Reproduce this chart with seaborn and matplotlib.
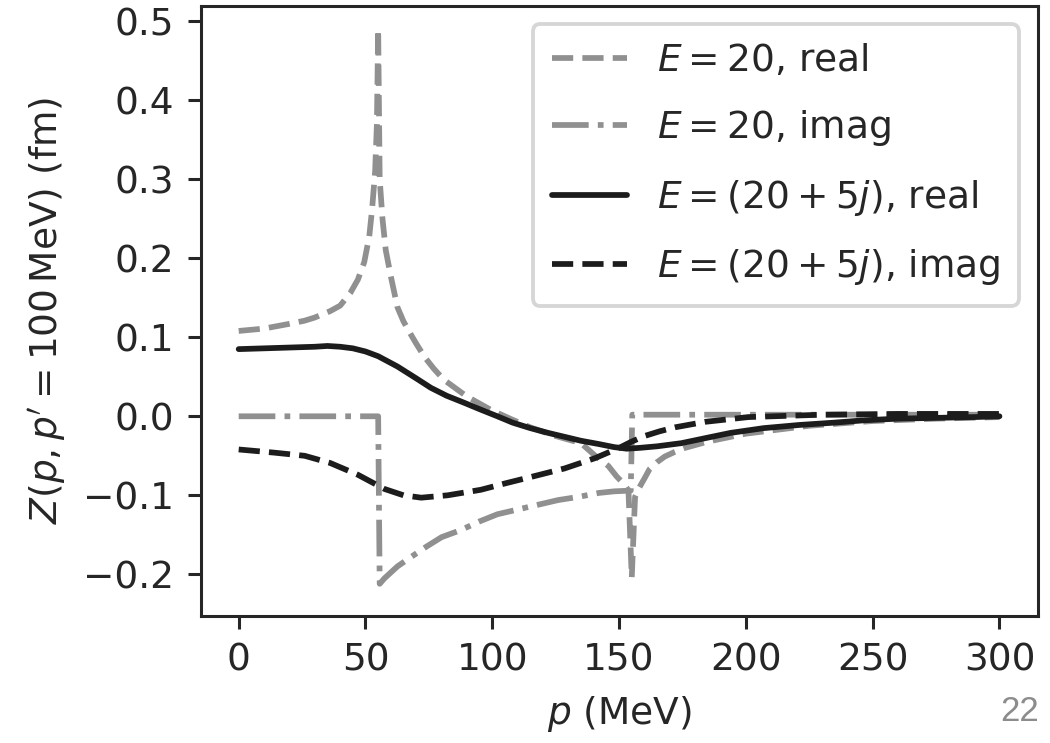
import numpy as np
import pandas as pd
import matplotlib
matplotlib.use("Agg")
import matplotlib.pyplot as plt
import seaborn as sns

# ---------------- data ----------------
# E = 20 (real energy) : real part
p_e20_real = [0, 10, 20, 26, 30, 36, 40, 44, 47, 49.5, 51.5, 52.6, 53.8, 54.5, 55,
              55.6, 56.7, 58, 60, 62.6, 65, 67.8, 70, 73.3, 77, 81, 90, 99.5, 107,
              115, 125, 135, 140.6, 145.8, 149, 152, 153.7, 155, 156.3, 158, 160.3,
              162, 165, 168, 172, 176, 185, 200, 225, 250, 275, 300]
z_e20_real = [0.108, 0.111, 0.117, 0.121, 0.125, 0.133, 0.140, 0.156, 0.173, 0.195,
              0.228, 0.262, 0.31, 0.37, 0.49,
              0.30, 0.25, 0.21, 0.177, 0.138, 0.120, 0.104, 0.092, 0.075, 0.060,
              0.046, 0.025, 0.008, -0.003,
              -0.014, -0.025, -0.034, -0.050, -0.063, -0.076, -0.086, -0.094, -0.204,
              -0.102, -0.090, -0.077,
              -0.067, -0.058, -0.051, -0.045, -0.040, -0.032, -0.022, -0.012, -0.006,
              -0.003, -0.001]

# E = 20 (real energy) : imaginary part
p_e20_imag = [0, 20, 40, 55, 55.6, 57.5, 62.6, 68, 74, 80, 87.6, 95, 102, 110, 118,
              126, 134, 142, 148, 154.6, 155.2, 170, 200, 250, 300]
z_e20_imag = [0.0, 0.0, 0.0, 0.0, -0.212, -0.205, -0.190, -0.178, -0.165, -0.153,
              -0.144, -0.133, -0.124, -0.118, -0.112,
              -0.106, -0.102, -0.097, -0.095, -0.094, 0.002, 0.002, 0.002, 0.002, 0.002]

# E = 20 + 5j (complex energy) : real part
p_cplx_real = [0, 10, 20, 30, 35, 40, 45, 50, 55, 62.6, 70, 75.8, 82, 89, 95, 102,
               108, 115, 122, 128.5, 135, 141.8, 148, 153, 158, 165, 174.6, 185,
               194, 207, 221, 235, 247, 260, 275, 290, 300]
z_cplx_real = [0.085, 0.086, 0.087, 0.088, 0.089, 0.088, 0.086, 0.082, 0.076, 0.063,
               0.048, 0.036, 0.026, 0.017, 0.009, 0.0,
               -0.008, -0.015, -0.021, -0.026, -0.031, -0.035, -0.039, -0.041, -0.040,
               -0.038, -0.034, -0.027,
               -0.021, -0.015, -0.011, -0.008, -0.005, -0.003, -0.002, -0.001, 0.0]

# E = 20 + 5j (complex energy) : imaginary part
p_cplx_imag = [0, 14, 26, 36, 47, 57.5, 65, 72, 82.4, 95.5, 105, 115, 128.5, 140.5,
               150, 155, 160, 166, 172, 184, 201, 230, 260, 300]
z_cplx_imag = [-0.042, -0.046, -0.050, -0.059, -0.074, -0.092, -0.100, -0.103, -0.100,
               -0.093, -0.085, -0.077, -0.066, -0.053,
               -0.040, -0.032, -0.025, -0.019, -0.014, -0.007, -0.001, 0.002, 0.003, 0.003]

labels = [r"$E = 20$, real", r"$E = 20$, imag",
          r"$E = (20 + 5j)$, real", r"$E = (20 + 5j)$, imag"]
x_ticks = [0, 50, 100, 150, 200, 250, 300]
y_ticks = [-0.2, -0.1, 0.0, 0.1, 0.2, 0.3, 0.4, 0.5]

# ---------------- style ----------------
s = 2.75  # scale factor of the (upscaled) original figure
sns.set_style("ticks")
plt.rcParams["font.family"] = ["DejaVu Sans"]
plt.rcParams.update({
    "font.size": 27,
    "axes.linewidth": 0.8 * s,
    "xtick.major.size": 3.5 * s, "ytick.major.size": 3.5 * s,
    "xtick.major.width": 0.8 * s, "ytick.major.width": 0.8 * s,
    "xtick.major.pad": 3.5 * s, "ytick.major.pad": 3.5 * s,
    "axes.labelpad": 4.0 * s,
    "lines.linewidth": 1.5 * s,
})

gray = "#909090"
dark = "#1c1c1c"

fig = plt.figure(figsize=(10.5, 7.43), dpi=100)
ax = fig.add_axes([0.1911, 0.1713, 0.797, 0.821])

series = [
    (p_e20_real, z_e20_real, labels[0], gray, "--"),
    (p_e20_imag, z_e20_imag, labels[1], gray, "-."),
    (p_cplx_real, z_cplx_real, labels[2], dark, "-"),
    (p_cplx_imag, z_cplx_imag, labels[3], dark, "--"),
]
for px, pz, lab, col, ls in series:
    df = pd.DataFrame({"p": px, "Z": pz})
    sns.lineplot(data=df, x="p", y="Z", ax=ax, color=col, linestyle=ls,
                 label=lab, sort=False, estimator=None, lw=1.5 * s)

ax.set_xlim(-15, 315)
ax.set_ylim(-0.2524, 0.5196)
ax.set_xticks(x_ticks)
ax.set_yticks(y_ticks)
ax.set_yticklabels([f"{v:.1f}".replace("-", "\u2212") for v in y_ticks])
ax.set_xlabel(r"$p$ (MeV)")
ax.set_ylabel(r"$Z(p, p' = 100\,\mathrm{MeV})$ (fm)")

leg = ax.legend(loc="upper right", fancybox=True, framealpha=0.8,
                labelspacing=0.78, borderpad=0.5)
leg.get_frame().set_linewidth(1.0 * s)
leg.get_frame().set_edgecolor("0.8")

fig.text(0.99, 0.02, "22", ha="right", va="bottom", color="0.55", fontsize=25,
         family=["Liberation Sans Narrow", "Liberation Sans", "DejaVu Sans"])

fig.savefig("out.png", dpi=100)
